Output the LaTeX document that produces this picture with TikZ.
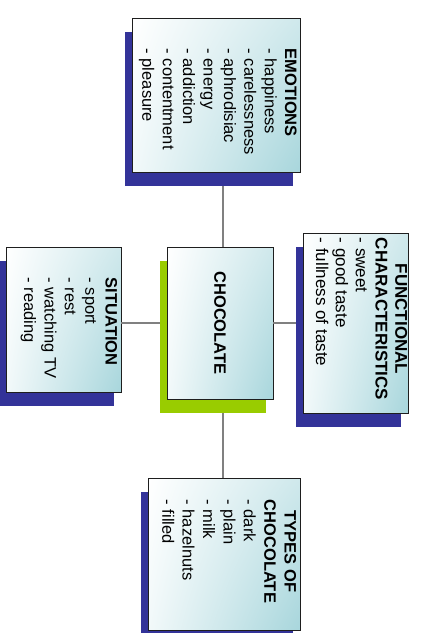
\documentclass[tikz,border=0pt]{standalone}
\usepackage{fontspec}
\usepackage{calc}
\setmainfont{Liberation Sans}
\usetikzlibrary{shadows,shadings}

\definecolor{navy}{RGB}{51,51,153}
\definecolor{lime}{RGB}{153,204,0}
\definecolor{aqua}{RGB}{168,214,220}
\definecolor{wiregray}{RGB}{128,128,128}
\definecolor{rim}{RGB}{30,30,30}

\tikzset{
  card/.style={draw=rim, line width=0.9pt, inner sep=0pt,
    upper left=white, lower left=white!85!aqua, upper right=aqua!55, lower right=aqua,
    general shadow={fill=#1, shadow xshift=-7pt, shadow yshift=-14pt}},
  card/.default=navy,
  list/.style={anchor=north west, rotate=-90, inner sep=0pt, align=left,
    font=\fontsize{16.5}{20.4}\selectfont},
  wire/.style={line width=1.4pt, line cap=butt, draw=wiregray, fill=wiregray}
}

\begin{document}
\begin{tikzpicture}[x=1pt,y=-1pt]
\useasboundingbox (0,0) rectangle (422,633);

% boxes
\node[card, minimum width=168pt, minimum height=154pt] (emo) at (216,95) {};
\node[card=lime, minimum width=106pt, minimum height=152pt] (choc) at (220,323) {};
\node[card, minimum width=115pt, minimum height=145pt] (sit) at (63.5,319.5) {};
\node[card, minimum width=105pt, minimum height=180pt] (func) at (355.5,323) {};
\node[card, minimum width=152pt, minimum height=152pt] (types) at (224,554) {};

% connectors as thin bars, ending where the shadows begin
\path[wire] ([xshift=2.4pt]choc.north) rectangle ([xshift=3.6pt,yshift=-14pt]choc.north |- emo.south);
\path[wire] ([xshift=2.4pt,yshift=-14pt]choc.south) rectangle ([xshift=3.6pt]choc.south |- types.north);
\path[wire] ([xshift=-7pt,yshift=-0.6pt]choc.west) rectangle ([yshift=0.6pt]choc.west -| sit.east);
\path[wire] ([yshift=-0.6pt]choc.east) rectangle ([xshift=-7pt,yshift=0.6pt]choc.east -| func.west);

% labels
\node[rotate=-90, inner sep=0pt, font=\fontsize{16.5}{20}\selectfont\bfseries] (chocT) at (choc) {CHOCOLATE};

\node[list] (emoT) at ([xshift=-3.5pt,yshift=-31pt]emo.north east)
  {\textbf{EMOTIONS}\\- happiness\\- carelessness\\- aphrodisiac\\- energy\\- addiction\\- contentment\\- pleasure};

\node[list] (sitT) at ([xshift=-4pt,yshift=-31pt]sit.north east)
  {\textbf{SITUATION}\\- sport\\- rest\\- watching TV\\- reading};

\node[list, font=\fontsize{17}{19.8}\selectfont] (funcT) at ([xshift=-1pt,yshift=-5pt]func.north east)
  {\makebox[\widthof{\bfseries CHARACTERISTICS}][c]{\bfseries FUNCTIONAL}\\\textbf{CHARACTERISTICS}\\- sweet\\- good taste\\- fullness of taste};

\node[list] (typesT) at ([xshift=-4pt,yshift=-22pt]types.north east)
  {\makebox[\widthof{\bfseries CHOCOLATE}][c]{\bfseries TYPES OF}\\\textbf{CHOCOLATE}\\- dark\\- plain\\- milk\\- hazelnuts\\- filled};
\end{tikzpicture}
\end{document}
